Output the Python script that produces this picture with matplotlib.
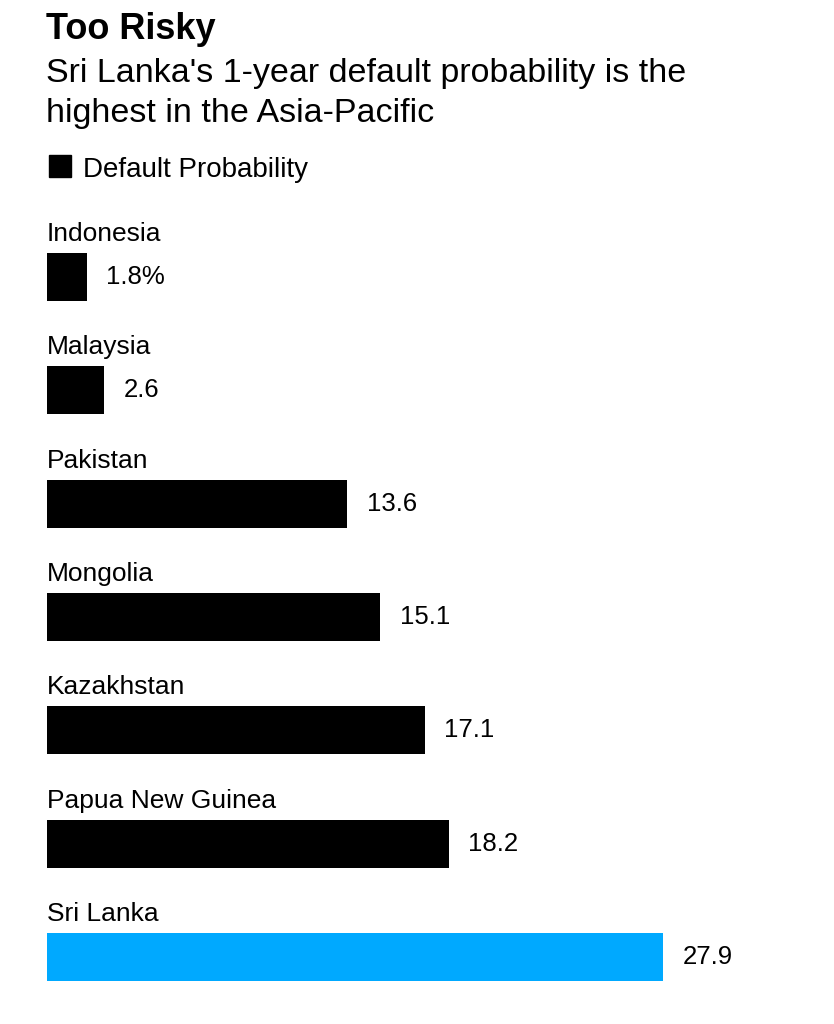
import matplotlib
matplotlib.use("Agg")
import matplotlib.pyplot as plt
from matplotlib.patches import Rectangle

plt.rcParams['font.family'] = ['Liberation Sans', 'DejaVu Sans']

# data
countries = ["Indonesia", "Malaysia", "Pakistan", "Mongolia", "Kazakhstan",
             "Papua New Guinea", "Sri Lanka"]
values = [1.8, 2.6, 13.6, 15.1, 17.1, 18.2, 27.9]
labels = ["1.8%", "2.6", "13.6", "15.1", "17.1", "18.2", "27.9"]
colors = ["black"] * 6 + ["#00A9FF"]

W, H = 834, 1024
fig = plt.figure(figsize=(W / 100, H / 100), dpi=100)

# axes placed in pixel terms: bars start x=47, 27.9 ends at x=663
top_px, bot_px = 220, 1010
ax = fig.add_axes([47 / W, 1 - bot_px / H, (663 - 47) / W, (bot_px - top_px) / H])
step = 113.33
ax.set_xlim(0, 27.9)
ax.set_ylim((bot_px - 277) / step, (top_px - 277) / step)
ax.axis("off")

ypos = list(range(len(countries)))
ax.barh(ypos, values, height=48 / step, color=colors, align="center")

for i, (c, v, lab) in enumerate(zip(countries, values, labels)):
    ax.text(0, i - 36 / step, c, fontsize=19, va="baseline", ha="left", color="black")
    ax.annotate(lab, (v, i), xytext=(14, 0), textcoords="offset points",
                fontsize=18.5, va="center", ha="left", color="black")

# header
fig.text(46 / W, 1 - 39 / H, "Too Risky", fontsize=26, fontweight="bold",
         va="baseline", ha="left")
fig.text(46 / W, 1 - 82 / H, "Sri Lanka's 1-year default probability is the",
         fontsize=24.5, va="baseline", ha="left")
fig.text(46 / W, 1 - 122 / H, "highest in the Asia-Pacific",
         fontsize=24.5, va="baseline", ha="left")

# legend
fig.patches.append(Rectangle((49 / W, 1 - 177 / H), 22 / W, 22 / H,
                             transform=fig.transFigure, color="black"))
fig.text(83 / W, 1 - 177 / H, "Default Probability", fontsize=20,
         va="baseline", ha="left")

fig.savefig("out.png", dpi=100, facecolor="white")
